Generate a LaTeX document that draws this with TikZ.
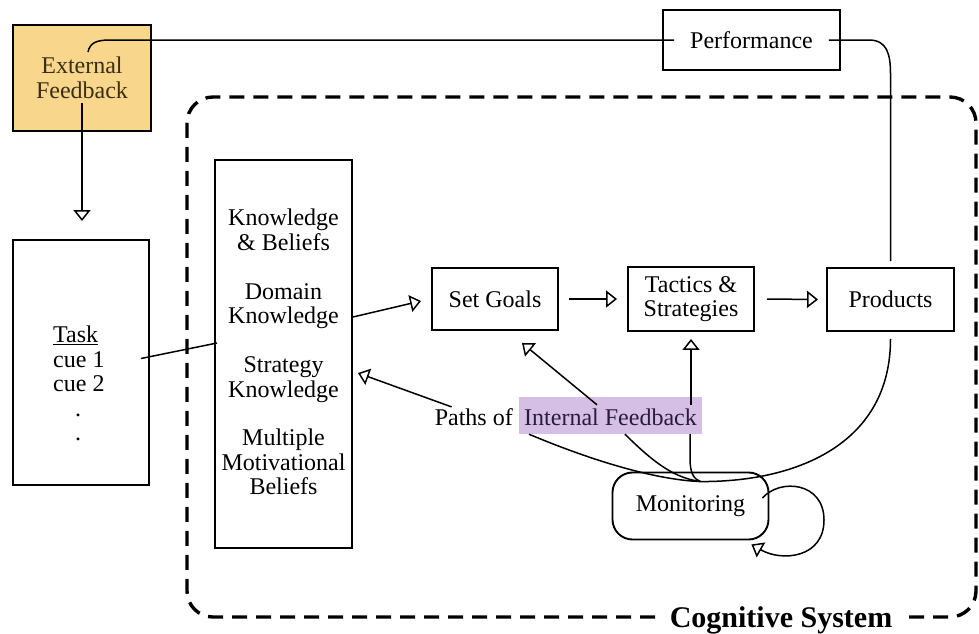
\documentclass[tikz,border=0pt]{standalone}
\usepackage{fontspec}
\setmainfont{Liberation Serif}
\usetikzlibrary{arrows.meta,calc}
\definecolor{extfill}{HTML}{F8D68C}
\definecolor{hlfill}{HTML}{D5BFE5}
\definecolor{hltext}{HTML}{2B1A40}
\definecolor{exttext}{HTML}{3A2E14}
\tikzset{
  box/.style={draw, line width=1.9pt, inner sep=0pt, align=center},
  conn/.style={line width=1.5pt},
  oarrow/.style={conn, -{Triangle[open, length=11pt, width=17pt, line width=1.5pt]}},
  txt/.style={inner sep=0pt, align=center},
  sysline/.style={line width=3.4pt, dash pattern=on 15pt off 9pt, rounded corners=26pt},
}
\begin{document}
\begin{tikzpicture}[x=1pt,y=-1pt,font=\fontsize{24}{24.5}\selectfont]
\useasboundingbox (0,0) rectangle (979,633);

% cognitive system frame
\draw[sysline] (655,617) -- (187,617) -- (187,97) -- (976,97) -- (976,617) -- (905,617);
\node[font=\fontsize{30}{32}\selectfont\bfseries, inner sep=0pt, anchor=base] (cogsys) at (781,627) {Cognitive System};

% boxes
\node[box, fill=extfill, text=exttext, minimum width=138pt, minimum height=106pt] (ext) at (82,78) {External\\Feedback};
\node[box, minimum width=177pt, minimum height=60pt] (perf) at (751.5,40) {Performance};
\node[box, minimum width=136pt, minimum height=245pt] (task) at (81,362.5) {};
\node[txt, anchor=north west, align=left] (tasktxt) at (53,326) {\underline{Task}\\cue 1\\cue 2\\\hspace*{22pt}.\\\hspace*{22pt}.};
\node[box, minimum width=137pt, minimum height=388pt] (know) at (283.5,354) {};
\node[txt] (knowtxt) at (283.5,352) {Knowledge\\\& Beliefs\\[24.5pt]Domain\\Knowledge\\[24.5pt]Strategy\\Knowledge\\[24pt]Multiple\\Motivational\\Beliefs};
\node[box, minimum width=126pt, minimum height=62pt] (setg) at (495,299) {Set Goals};
\node[box, minimum width=126pt, minimum height=64pt] (tact) at (691,299) {Tactics \&\\Strategies};
\node[box, minimum width=127pt, minimum height=63pt] (prod) at (890.5,299.5) {Products};
\node[box, rounded corners=20pt, minimum width=156pt, minimum height=67pt] (mon) at (690.5,506) {Monitoring};

\node[txt, anchor=base east] (paths) at (513,425) {Paths of};
\node[fill=hlfill, text=hltext, inner xsep=5pt, inner ysep=2pt, text height=26pt, text depth=7pt, anchor=base west] (ifb) at (519,425) {Internal Feedback};

% connectors
\draw[oarrow, shorten >=18pt] ([yshift=-25pt]ext.center) -- (ext.center |- task.north);
\draw[conn] ([xshift=6pt,yshift=26pt]ext.center) .. controls ($(ext.center)+(8,-35)$) and ($(ext.center)+(14,-38)$) .. ($(ext.center)+(28,-38)$) -- ([xshift=12pt]perf.west);
\coordinate (pc) at (prod.north |- perf.east);
\draw[conn, shorten >=6pt] ([xshift=-12pt]perf.east) -- ($(perf.east)+(28,0)$) .. controls ($(perf.east)+(46,0)$) and ($(pc)+(0,14)$) .. ($(pc)+(0,34)$) -- (prod.north);

\coordinate (mjoin) at ($(mon.north)+(10,10)$);
\draw[conn] ($(prod.south)+(0,7)$) .. controls ($(prod.south)+(0,110)$) and (800,482) .. (mjoin);

\draw[conn] ($(task.east)+(-9,-4)$) -- ($(know.west)+(3,-11)$);
\draw[oarrow] ($(know.east)+(0,-37)$) -- ($(setg.west)+(-10,2)$);
\draw[oarrow] ($(setg.east)+(10,0)$) -- ($(tact.west)+(-10,0)$);
\draw[oarrow] ($(tact.east)+(12,0)$) -- ($(prod.west)+(-8,0)$);

% internal feedback, lower parts
\draw[conn] ($(ifb.south west)+(10,0)$) .. controls (600,464) and (660,480) .. (mjoin);
\draw[conn] ($(ifb.south west)+(106,0)$) .. controls (655,464) and (675,478) .. (mjoin);
\draw[conn] ($(ifb.south west)+(171,0)$) -- (690,458) .. controls (690,474) and (694,479) .. (mjoin);
% internal feedback, upper parts
\draw[oarrow] ($(paths.north west)+(17,-1)$) -- ($(know.east)+(5,19)$);
\draw[oarrow] ($(ifb.north west)+(78,8)$) -- ($(setg.south)+(27,12)$);
\draw[oarrow] ($(ifb.north west)+(172,8)$) -- ($(tact.south)+(0,7)$);

% monitoring self loop
\draw[oarrow] ($(mon.east)+(-7,-8)$) .. controls (780,478) and (824,482) .. (824,520) .. controls (824,558) and (782,562) .. ($(mon.south east)+(-18,4)$);
\end{tikzpicture}
\end{document}
